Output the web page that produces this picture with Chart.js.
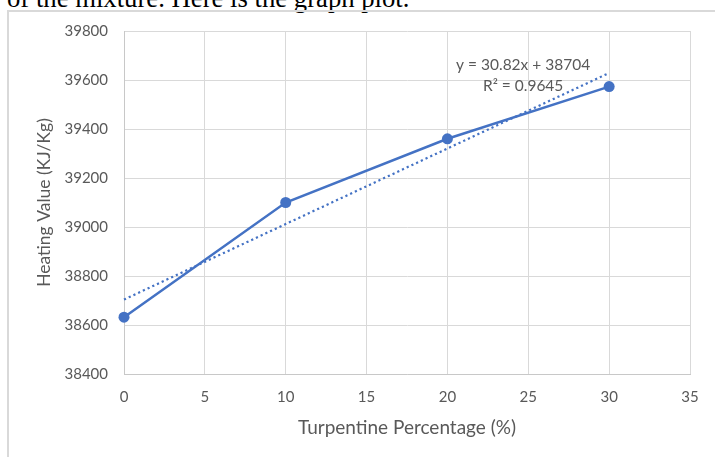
<!DOCTYPE html>
<html>
<head>
<meta charset="utf-8">
<script src="https://cdn.jsdelivr.net/npm/chart.js@4/dist/chart.umd.min.js"></script>
<style>
    html, body { margin: 0; padding: 0; background: #fff; overflow: hidden; }
    #page { position: relative; width: 715px; height: 457px; overflow: hidden; }
    #intro {
        position: absolute; left: 7px; top: -15px; margin: 0;
        font: 26.7px/26.7px "Liberation Serif", "Times New Roman", serif; color: #000;
        white-space: nowrap;
    }
    #frame {
        position: absolute; left: 7px; top: 10px; width: 800px; height: 500px;
        border: 2px solid #d9d9d9; box-sizing: border-box;
    }
    #wrap { position: absolute; left: 0; top: 0; width: 715px; height: 457px; }
</style>
</head>
<body>
<div id="page">
    <p id="intro">of the mixture. Here is the graph plot.</p>
    <div id="frame"></div>
    <div id="wrap"><canvas id="chart"></canvas></div>
</div>
<script>
// values
var turpentinePct = [0, 10, 20, 30];
var heatingValue = [38632, 39100, 39360, 39573];
var trendLabel = ['y = 30.82x + 38704', 'R\u00B2 = 0.9645'];

var xTitle = 'Turpentine Percentage (%)';
var yTitle = 'Heating Value (KJ/Kg)';

var BLUE = '#4472C4';
var GRID = '#d9d9d9';
var TEXT = '#595959';
var FONT = 'Lato, "Open Sans", sans-serif';

// least squares fit, same as the Excel linear trendline
function linearFit(xs, ys) {
    var n = xs.length, sx = 0, sy = 0, sxy = 0, sxx = 0;
    for (var i = 0; i < n; i++) {
        sx += xs[i]; sy += ys[i]; sxy += xs[i] * ys[i]; sxx += xs[i] * xs[i];
    }
    var slope = (n * sxy - sx * sy) / (n * sxx - sx * sx);
    return { slope: slope, intercept: (sy - slope * sx) / n };
}

var fit = linearFit(turpentinePct, heatingValue);
var xFirst = turpentinePct[0], xLast = turpentinePct[turpentinePct.length - 1];
var trendPoints = [
    { x: xFirst, y: fit.intercept + fit.slope * xFirst },
    { x: xLast, y: fit.intercept + fit.slope * xLast }
];

// writes the equation next to the end of the trendline
var trendLabelPlugin = {
    id: 'trendLabel',
    afterDatasetsDraw: function (chart) {
        var meta = chart.getDatasetMeta(1);
        var end = meta.data[meta.data.length - 1];
        var ctx = chart.ctx;
        ctx.save();
        ctx.font = '15.5px ' + FONT;
        ctx.fillStyle = TEXT;
        ctx.textAlign = 'center';
        ctx.textBaseline = 'middle';
        ctx.fillText(trendLabel[0], end.x - 86, end.y - 8);
        ctx.fillText(trendLabel[1], end.x - 86, end.y + 13);
        ctx.restore();
    }
};

function plainNumber(value) { return String(value); }

var chart = new Chart(document.getElementById('chart'), {
    type: 'line',
    data: {
        datasets: [{
            label: 'Heating value',
            data: turpentinePct.map(function (x, i) { return { x: x, y: heatingValue[i] }; }),
            borderColor: BLUE,
            backgroundColor: BLUE,
            borderWidth: 2.5,
            pointRadius: 5.5,
            pointHoverRadius: 5.5,
            pointBorderWidth: 0,
            tension: 0,
            clip: false
        }, {
            label: 'Linear trend',
            data: trendPoints,
            borderColor: BLUE,
            borderWidth: 2.2,
            borderDash: [2.2, 3],
            pointRadius: 0,
            tension: 0,
            clip: false
        }]
    },
    plugins: [trendLabelPlugin],
    options: {
        responsive: true,
        maintainAspectRatio: false,
        animation: false,
        layout: { padding: { left: 0, top: 31, right: 25, bottom: 0 } },
        plugins: {
            legend: { display: false },
            tooltip: { enabled: false }
        },
        scales: {
            x: {
                type: 'linear',
                min: 0,
                max: 35,
                ticks: {
                    stepSize: 5, color: TEXT, font: { family: FONT, size: 15 },
                    padding: 14, callback: plainNumber
                },
                grid: { color: GRID, lineWidth: 1, drawTicks: false },
                border: { color: '#c8c8c8', width: 1 },
                title: {
                    display: true, text: xTitle, color: TEXT,
                    font: { family: FONT, size: 19 }, padding: { bottom: 18 }
                },
                afterFit: function (scale) { scale.height = 83; }
            },
            y: {
                min: 38400,
                max: 39800,
                ticks: {
                    stepSize: 200, color: TEXT, font: { family: FONT, size: 15 },
                    padding: 16, callback: plainNumber
                },
                grid: { color: GRID, lineWidth: 1, drawTicks: false },
                border: { color: '#c8c8c8', width: 1 },
                title: {
                    display: true, text: yTitle, color: TEXT,
                    font: { family: FONT, size: 17.5 }, padding: { top: 34 }
                },
                afterFit: function (scale) { scale.width = 124; }
            }
        }
    }
});
</script>
</body>
</html>
